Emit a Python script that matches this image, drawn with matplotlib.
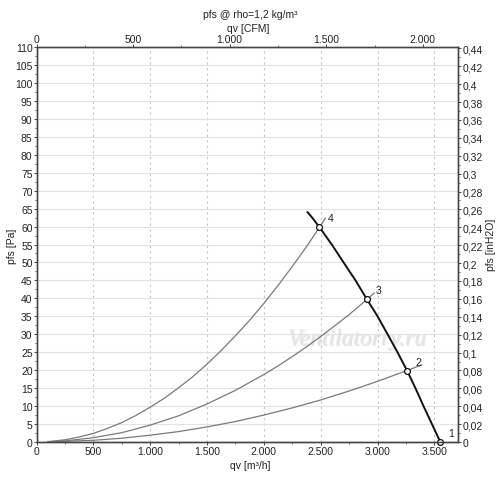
import matplotlib
matplotlib.use("Agg")
import matplotlib.pyplot as plt
from matplotlib.ticker import MultipleLocator, FuncFormatter
import matplotlib.patheffects as pe

plt.rcParams['font.family'] = ['Liberation Sans', 'DejaVu Sans']

# fan curve, m3/h vs Pa
fan_q = [2384, 2437, 2489, 2597, 2701, 2806, 2907, 3000, 3088, 3175, 3259, 3333, 3404, 3478, 3552]
fan_p = [64.0, 62.0, 59.8, 55.0, 50.0, 45.0, 39.7, 35.0, 30.0, 25.0, 19.9, 15.0, 10.0, 5.0, 0.0]

# system curves
sys4_q = [100, 250, 375, 500, 625, 750, 875, 1000, 1125, 1250, 1375, 1500, 1625, 1750, 1875,
          2000, 2125, 2250, 2375, 2489, 2540]
sys4_p = [0.1, 0.6, 1.4, 2.4, 3.8, 5.4, 7.4, 9.7, 12.2, 15.1, 18.2, 21.7, 25.5, 29.6, 33.9,
          38.6, 43.6, 48.9, 54.4, 59.8, 62.3]
sys3_q = [100, 250, 500, 750, 1000, 1250, 1500, 1750, 2000, 2125, 2250, 2375, 2500,
          2625, 2750, 2829, 2907, 2971]
sys3_p = [0.05, 0.3, 1.2, 2.6, 4.7, 7.3, 10.6, 14.4, 18.8, 21.2, 23.8, 26.5, 29.4,
          32.4, 35.5, 37.6, 39.7, 41.5]
sys2_q = [100, 500, 750, 1000, 1250, 1500, 1750, 2000, 2250, 2500, 2750, 3000, 3259, 3390]
sys2_p = [0.02, 0.47, 1.05, 1.9, 2.9, 4.2, 5.7, 7.5, 9.5, 11.7, 14.2, 16.9, 19.9, 21.5]

# operating points 1..4
op_labels = ['1', '2', '3', '4']
op_q = [3552, 3259, 2907, 2489]
op_p = [0.0, 19.9, 39.7, 59.8]

Q_MAX = 3710
P_MAX = 110
CFM = 1.699      # m3/h per CFM
INH2O = 249.09   # Pa per inH2O
FS = 7.5

def dotnum(v, pos):
    return f"{int(round(v)):,}".replace(",", ".")

def commanum(v, pos):
    s = f"{v:.2f}".rstrip("0").rstrip(".")
    return s.replace(".", ",")

def style_ticks(a, pad=0.6):
    a.tick_params(which='major', length=2.2, width=0.7, labelsize=FS, colors='#444444',
                  labelcolor='#222222', pad=pad)
    a.tick_params(which='minor', length=1.6, width=0.6, colors='#555555')

fig = plt.figure(figsize=(5.0, 4.81), dpi=100)
ax = fig.add_axes([0.073, 0.079, 0.8436, 0.8212])

ax.set_xlim(0, Q_MAX)
ax.set_ylim(0, P_MAX)

ax.yaxis.set_major_locator(MultipleLocator(5))
ax.yaxis.set_minor_locator(MultipleLocator(2.5))
ax.xaxis.set_major_locator(MultipleLocator(500))
ax.xaxis.set_minor_locator(MultipleLocator(250))
ax.xaxis.set_major_formatter(FuncFormatter(dotnum))

ax.grid(axis='y', which='major', color='#e2e2e2', linewidth=0.8, linestyle='-')
ax.grid(axis='x', which='major', color='#c4c4c4', linewidth=0.8, linestyle=(0, (2, 3)))
ax.set_axisbelow(True)

ax.text(0.76, 0.26, "Ventilatorry.ru", transform=ax.transAxes, ha='center', va='center',
        fontsize=17, family='Liberation Serif', style='italic', color='#e6e6e6',
        path_effects=[pe.withSimplePatchShadow(offset=(0.8, -0.8), shadow_rgbFace='#c8c8c8', alpha=0.5)],
        zorder=1)

ax.plot(sys4_q, sys4_p, color='#7a7a7a', linewidth=0.9, zorder=2)
ax.plot(sys3_q, sys3_p, color='#7a7a7a', linewidth=0.9, zorder=2)
ax.plot(sys2_q, sys2_p, color='#7a7a7a', linewidth=0.9, zorder=2)
ax.plot(fan_q, fan_p, color='#111111', linewidth=1.4, zorder=3)
ax.plot(op_q, op_p, linestyle='none', marker='o', markersize=4.2,
        markerfacecolor='white', markeredgecolor='#111111', markeredgewidth=0.9,
        zorder=4, clip_on=False)
for lab, q, p in zip(op_labels, op_q, op_p):
    ax.annotate(lab, (q, p), xytext=(8, 6.5), textcoords='offset points',
                ha='center', va='center', fontsize=FS, color='#222222')

for s in ax.spines.values():
    s.set_color('#444444')
    s.set_linewidth(0.9)

style_ticks(ax)

# top CFM axis
top = ax.twiny()
top.set_xlim(0, Q_MAX / CFM)
top.xaxis.set_major_locator(MultipleLocator(500))
top.xaxis.set_minor_locator(MultipleLocator(250))
top.xaxis.set_major_formatter(FuncFormatter(dotnum))
top.tick_params(axis='y', which='both', left=False, right=False, labelleft=False, labelright=False)
style_ticks(top, pad=0)

# right inH2O axis
right = ax.twinx()
right.set_ylim(0, P_MAX / INH2O)
right.yaxis.set_major_locator(MultipleLocator(0.02))
right.yaxis.set_minor_locator(MultipleLocator(0.01))
right.yaxis.set_major_formatter(FuncFormatter(commanum))
right.tick_params(axis='x', which='both', top=False, bottom=False, labeltop=False, labelbottom=False)
style_ticks(right)
for a in (top, right):
    for s in a.spines.values():
        s.set_color('#444444')
        s.set_linewidth(0.9)

# axis titles
fig.text(0.5, 1 - 15 / 481, "pfs @ rho=1,2 kg/m³", ha='center', va='center', fontsize=FS, color='#222222')
fig.text(0.496, 1 - 29.5 / 481, "qv [CFM]", ha='center', va='center', fontsize=FS, color='#222222')
fig.text(0.5, 1 - 466 / 481, "qv [m³/h]", ha='center', va='center', fontsize=FS, color='#222222')
fig.text(12 / 500, 1 - 246 / 481, "pfs [Pa]", ha='center', va='center', rotation=90,
         fontsize=FS, color='#222222')
fig.text(491 / 500, 1 - 245 / 481, "pfs [inH2O]", ha='center', va='center', rotation=90,
         fontsize=FS, color='#222222')

fig.savefig("out.png", dpi=100)
